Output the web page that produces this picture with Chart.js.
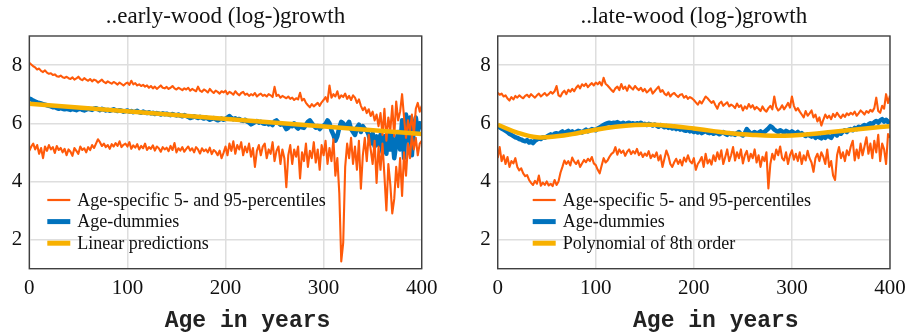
<!DOCTYPE html>
<html><head><meta charset="utf-8">
<script src="https://cdn.jsdelivr.net/npm/chart.js@4/dist/chart.umd.min.js"></script>
<style>
html,body{margin:0;padding:0;background:#fff;}
#wrap{position:relative;width:905px;height:335px;overflow:hidden;background:#fff;}
canvas{position:absolute;top:0;}
#c1{left:0;} #c2{left:468px;}
</style></head><body>
<div id="wrap"><canvas id="c1" width="440" height="335"></canvas><canvas id="c2" width="438" height="335"></canvas></div>
<script>
// ---------- data ----------
const ageStep = 2;                       // observations every 2 years, 0..400
const ages = Array.from({length: 201}, (_, i) => i * ageStep);
const xTicks = [0, 100, 200, 300, 400];
const yTicks = [2, 4, 6, 8];

const titleLeft = '..early-wood (log-)growth';
const titleRight = '..late-wood (log-)growth';
const xTitle = 'Age in years';
const legendLeft = ['Age-specific 5- and 95-percentiles', 'Age-dummies', 'Linear predictions'];
const legendRight = ['Age-specific 5- and 95-percentiles', 'Age-dummies', 'Polynomial of 8th order'];

const earlyP95 = [
8.08,8.02,7.96,7.92,7.85,7.88,7.80,7.76,7.82,7.74,
7.70,7.72,7.66,7.68,7.62,7.60,7.64,7.58,7.56,7.60,
7.55,7.52,7.58,7.50,7.54,7.60,7.52,7.48,7.55,7.50,
7.46,7.52,7.44,7.50,7.47,7.40,7.45,7.50,7.42,7.38,
7.44,7.40,7.36,7.42,7.38,7.33,7.40,7.35,7.30,7.36,
7.40,7.32,7.46,7.34,7.38,7.30,7.34,7.28,7.32,7.26,
7.30,7.22,7.28,7.20,7.26,7.18,7.24,7.30,7.22,7.20,
7.25,7.18,7.22,7.28,7.20,7.16,7.22,7.18,7.14,7.20,
7.16,7.22,7.12,7.18,7.14,7.10,7.26,7.12,7.08,7.16,
7.12,7.06,7.18,7.10,7.04,7.12,7.08,7.02,7.10,7.06,
7.12,7.00,7.08,7.04,6.98,7.10,7.02,6.96,7.04,7.08,
6.98,7.02,6.94,7.00,6.96,7.04,6.92,6.98,7.02,6.94,
6.98,6.92,7.00,6.96,6.90,7.25,6.94,6.98,6.88,6.94,
6.90,6.86,6.92,6.84,6.88,6.80,6.86,6.82,7.05,6.78,
6.84,6.70,6.62,6.55,6.66,6.58,6.64,6.70,6.60,6.72,
6.80,6.90,6.74,7.30,6.88,7.00,6.92,7.10,6.85,6.96,
6.90,7.02,6.84,6.94,6.80,6.96,6.88,6.70,6.82,6.60,
6.45,6.55,6.35,6.48,6.25,6.40,6.10,6.30,5.90,6.35,
5.60,6.50,5.40,6.20,5.75,6.60,5.55,6.75,6.10,6.40,
7.00,6.20,5.50,6.10,5.70,6.30,5.60,6.50,6.70,6.40,
6.60];

const earlyP05 = [
5.05,5.20,5.30,5.10,5.25,4.95,5.15,4.80,5.20,5.05,
5.25,5.10,5.18,4.98,5.22,5.08,5.15,5.00,5.12,4.90,
5.10,5.02,4.88,5.15,5.05,4.95,5.20,5.08,5.14,5.00,
5.18,5.08,5.25,5.15,5.30,5.45,5.35,5.22,5.30,5.18,
5.25,5.12,5.28,5.20,5.32,5.22,5.38,5.18,5.26,5.30,
5.20,5.35,5.12,5.24,5.16,5.28,5.10,5.22,5.14,5.30,
5.08,5.18,5.12,5.24,5.06,5.20,5.14,5.02,5.18,5.10,
5.16,5.04,5.22,5.08,5.32,5.00,5.14,5.06,5.18,5.02,
5.12,5.20,5.06,5.14,5.00,5.18,5.10,4.96,5.14,5.04,
5.10,5.00,5.16,4.94,5.08,5.02,4.90,5.06,4.80,4.98,
5.20,4.90,5.30,5.05,5.38,4.95,5.25,5.10,5.35,4.90,
5.20,5.00,5.30,4.85,5.15,4.50,5.05,5.25,4.90,5.20,
5.30,4.80,5.10,4.95,5.35,4.70,5.05,5.20,4.60,5.10,
4.80,3.80,4.90,5.25,4.60,5.10,4.85,5.20,4.10,5.00,
4.70,5.30,4.50,5.05,4.80,5.35,4.65,5.10,4.40,5.25,
4.90,5.40,4.60,5.15,4.70,5.45,4.20,4.80,3.60,1.25,
1.90,4.50,5.30,4.80,5.50,4.60,5.20,4.40,5.40,3.75,
4.90,5.50,4.70,5.60,5.10,4.60,5.40,3.95,5.20,4.40,
5.30,4.20,3.00,4.60,3.90,2.90,3.40,4.50,3.80,4.80,
3.50,5.00,4.20,5.30,4.80,5.60,5.10,5.50,4.90,5.30,
5.40];

const earlyDummies = [
6.85,6.82,6.78,6.75,6.72,6.70,6.68,6.66,6.64,6.62,
6.60,6.58,6.55,6.56,6.52,6.50,6.52,6.50,6.48,6.50,
6.48,6.46,6.50,6.47,6.45,6.48,6.50,6.46,6.44,6.47,
6.50,6.48,6.46,6.50,6.52,6.48,6.45,6.50,6.47,6.44,
6.46,6.43,6.45,6.48,6.44,6.42,6.45,6.43,6.40,6.42,
6.44,6.40,6.42,6.38,6.40,6.43,6.38,6.36,6.40,6.37,
6.35,6.38,6.34,6.36,6.32,6.35,6.33,6.30,6.34,6.31,
6.33,6.30,6.28,6.32,6.29,6.27,6.30,6.26,6.24,6.28,
6.25,6.22,6.18,6.20,6.24,6.21,6.18,6.22,6.19,6.16,
6.20,6.16,6.12,6.15,6.18,6.14,6.10,6.13,6.16,6.12,
6.15,6.20,6.25,6.18,6.14,6.17,6.12,6.15,6.10,6.08,
6.12,6.06,6.02,5.96,6.00,6.04,6.08,6.02,6.05,6.00,
5.98,6.03,5.96,6.00,5.94,6.06,6.10,6.02,5.95,5.98,
5.92,5.80,5.85,5.95,5.90,6.00,5.88,5.82,5.90,5.86,
5.84,5.95,6.05,6.10,6.00,5.92,5.85,5.90,5.80,5.88,
5.92,5.98,6.10,6.00,5.75,5.60,5.40,5.55,5.85,6.05,
6.00,5.85,5.95,6.05,5.80,5.70,5.60,5.85,5.95,5.70,
5.90,5.80,5.75,5.60,5.30,5.65,5.20,5.55,5.25,5.60,
5.00,5.55,4.95,5.70,5.10,5.60,4.80,5.30,5.70,5.10,
6.10,4.80,6.30,5.40,6.20,4.90,5.90,6.20,5.70,6.00,
5.80];

const linearAges = [0, 400];
const linearPred = [6.67, 5.63];

const lateP95 = [
7.05,6.98,7.02,6.92,6.96,6.85,6.78,6.90,6.82,6.94,
6.88,6.96,6.90,6.86,6.94,6.98,6.90,7.00,6.94,6.88,
6.96,7.02,6.92,6.98,7.04,6.95,7.00,7.08,7.02,7.10,
7.28,6.96,6.92,7.05,7.12,7.00,7.15,7.08,7.18,7.10,
7.22,7.30,7.20,7.34,7.28,7.36,7.24,7.32,7.38,7.30,
7.40,7.34,7.42,7.30,7.56,7.36,7.30,7.22,7.14,7.08,
7.20,7.26,7.14,7.35,7.18,7.26,7.12,7.30,7.22,7.16,
7.28,7.20,7.14,7.22,7.10,7.18,7.06,7.12,7.20,7.02,
7.10,7.18,7.26,7.08,7.14,7.02,6.96,7.06,6.92,7.00,
7.04,6.96,6.90,6.98,7.00,6.88,6.94,6.84,6.90,6.86,
6.80,6.72,6.64,6.76,6.68,6.80,6.92,6.86,6.78,6.70,
6.76,6.62,6.50,6.68,6.74,6.60,6.66,6.72,6.58,6.64,
6.60,6.52,6.68,6.56,6.62,6.44,6.58,6.50,6.66,6.54,
6.62,6.48,6.56,6.50,6.42,6.58,6.46,6.40,6.52,6.60,
6.48,6.92,6.56,6.44,6.50,6.62,6.48,6.58,6.70,6.54,
6.92,6.60,6.44,6.52,6.40,6.30,6.20,6.42,6.26,6.34,
6.44,6.20,6.30,6.06,6.20,5.92,6.12,6.30,6.18,6.26,
6.14,6.32,6.22,6.36,6.26,6.18,6.30,6.22,6.34,6.28,
6.36,6.30,6.40,6.26,6.34,6.44,6.38,6.30,6.42,6.36,
6.46,6.40,6.52,6.88,6.42,6.36,6.60,6.50,7.00,6.70,
6.95];

const lateP05 = [
4.80,5.18,4.70,4.90,4.60,4.84,4.50,4.70,4.62,4.80,
4.50,4.38,4.45,4.28,4.18,4.22,4.05,3.95,3.88,4.02,
3.92,4.20,3.85,3.96,3.88,4.00,3.86,3.92,3.84,4.05,
3.88,4.00,4.30,4.50,4.72,4.60,4.70,4.55,4.82,4.68,
4.60,4.72,4.50,4.62,4.74,4.66,4.78,4.70,4.84,4.62,
4.56,4.40,4.28,4.55,4.80,4.65,4.72,4.85,4.95,5.00,
5.18,4.92,5.10,4.98,5.06,4.88,5.02,5.10,4.94,5.04,
4.96,5.12,4.90,5.00,4.84,4.96,4.88,5.04,4.80,4.92,
4.84,5.00,4.72,4.90,4.50,4.78,5.06,4.88,4.60,4.50,
4.66,4.78,4.60,4.74,4.55,4.82,4.68,4.90,4.70,4.62,
4.80,4.40,4.60,4.70,4.84,4.50,4.95,4.62,4.75,4.58,
4.90,4.70,5.00,4.76,5.07,4.60,4.84,5.10,4.70,4.90,
5.18,4.72,5.00,4.80,5.10,4.62,4.90,5.05,4.70,4.95,
4.80,5.10,4.65,4.90,4.50,4.85,4.70,5.00,3.76,4.60,
4.95,4.75,5.10,4.90,5.20,4.80,4.72,5.00,4.60,4.90,
5.07,4.75,4.95,4.70,5.00,4.60,4.90,4.72,5.05,4.80,
4.65,4.33,4.80,4.95,4.70,5.00,4.85,4.60,5.10,4.50,
4.70,4.20,4.05,4.90,5.18,4.80,5.00,4.70,5.07,4.90,
5.20,5.40,4.72,5.10,4.80,5.30,4.90,5.20,5.52,4.95,
5.30,4.80,5.40,5.00,5.60,4.70,5.30,5.10,4.60,5.63,
5.50];

const lateDummies = [
5.90,5.86,5.82,5.78,5.74,5.70,5.64,5.60,5.56,5.52,
5.50,5.46,5.44,5.40,5.38,5.42,5.34,5.38,5.32,5.40,
5.44,5.48,5.46,5.52,5.50,5.54,5.58,5.62,5.58,5.64,
5.66,5.62,5.68,5.72,5.66,5.70,5.74,5.68,5.72,5.66,
5.70,5.74,5.72,5.68,5.74,5.78,5.72,5.76,5.80,5.78,
5.76,5.82,5.86,5.90,5.94,5.98,6.00,6.02,5.98,6.02,
6.00,6.04,6.00,5.98,6.02,5.96,6.00,6.02,5.98,6.00,
5.96,6.00,5.98,6.02,5.96,5.98,5.94,5.98,5.96,5.92,
5.96,5.92,5.88,5.94,5.90,5.86,5.90,5.84,5.88,5.82,
5.86,5.80,5.84,5.78,5.82,5.76,5.74,5.78,5.72,5.76,
5.70,5.74,5.68,5.72,5.66,5.70,5.74,5.68,5.66,5.70,
5.64,5.68,5.66,5.62,5.66,5.70,5.64,5.60,5.66,5.62,
5.64,5.60,5.66,5.70,5.62,5.58,5.66,5.80,5.72,5.64,
5.66,5.70,5.64,5.68,5.72,5.66,5.70,5.76,5.82,5.90,
5.86,5.78,5.74,5.70,5.76,5.72,5.68,5.74,5.70,5.66,
5.72,5.68,5.64,5.70,5.62,5.66,5.60,5.56,5.62,5.58,
5.54,5.60,5.50,5.58,5.52,5.48,5.56,5.50,5.58,5.54,
5.50,5.62,5.66,5.58,5.70,5.64,5.72,5.76,5.70,5.78,
5.80,5.76,5.84,5.80,5.88,5.84,5.90,5.94,5.88,5.96,
6.00,5.96,6.04,6.08,6.02,6.10,6.14,6.06,6.12,6.04,
6.08];

const polyAges = [0,20,40,60,80,100,120,140,160,180,200,220,240,260,280,300,320,340,360,380,400];
const polyPred = [5.95,5.68,5.52,5.55,5.65,5.78,5.88,5.94,5.95,5.90,5.82,5.73,5.65,5.60,5.57,5.58,5.63,5.70,5.77,5.84,5.90];

// ---------- style ----------
const ORANGE = '#ff5a0a';
const BLUE = '#0072bd';
const YELLOW = '#f8b100';
const SERIF = '"Liberation Serif", "Times New Roman", serif';
const MONO = '"Liberation Mono", "Courier New", monospace';

const pts = (xs, ys) => xs.map((x, i) => ({x: x, y: ys[i]}));

const decor = {
  id: 'decor',
  afterDraw(chart, args, o) {
    const {ctx, chartArea: a} = chart;
    ctx.save();
    // frame
    ctx.strokeStyle = '#404040';
    ctx.lineWidth = 1.4;
    ctx.strokeRect(a.left, a.top, a.right - a.left, a.bottom - a.top);
    // legend
    ctx.font = '18px ' + SERIF;
    ctx.textBaseline = 'middle';
    ctx.textAlign = 'left';
    const items = chart.data.datasets.filter(d => d.legendRow !== undefined)
      .sort((p, q) => p.legendRow - q.legendRow);
    items.forEach((d, i) => {
      const y = a.top + o.legendTop + i * 21.6;
      ctx.strokeStyle = d.borderColor;
      ctx.lineWidth = d.legendWidth;
      ctx.beginPath();
      ctx.moveTo(a.left + o.legendX, y);
      ctx.lineTo(a.left + o.legendX + 23, y);
      ctx.stroke();
      ctx.fillStyle = '#111';
      ctx.fillText(d.label, a.left + o.legendX + 30, y + 1);
    });
    // x axis title
    ctx.font = 'bold 23px ' + MONO;
    ctx.textAlign = 'center';
    ctx.fillStyle = '#222';
    ctx.fillText(o.xTitle, (a.left + a.right) / 2 + 22, 321);
    ctx.restore();
  }
};

function makeChart(id, title, legend, p95, p05, dummies, fitX, fitY, fitTension, plotLeft, plotRight, canvasW, legendX) {
  return new Chart(document.getElementById(id), {
    type: 'line',
    data: {
      datasets: [
        {label: legend[2], data: pts(fitX, fitY), borderColor: YELLOW, borderWidth: 4.5, tension: fitTension, legendRow: 2, legendWidth: 5},
        {label: legend[0], data: pts(ages, p95), borderColor: ORANGE, borderWidth: 2.1, legendRow: 0, legendWidth: 2.2},
        {label: legend[0] + ' (5)', data: pts(ages, p05), borderColor: ORANGE, borderWidth: 2.1},
        {label: legend[1], data: pts(ages, dummies), borderColor: BLUE, borderWidth: 4.5, legendRow: 1, legendWidth: 5}
      ]
    },
    options: {
      responsive: false,
      animation: false,
      events: [],
      elements: {point: {radius: 0}, line: {tension: 0, borderJoinStyle: 'round', borderCapStyle: 'butt'}},
      layout: {padding: {left: 0, right: canvasW - plotRight, top: 0, bottom: 0}},
      plugins: {
        legend: {display: false},
        tooltip: {enabled: false},
        title: {display: true, fullSize: false, text: title, color: '#111', font: {family: SERIF, size: 23, weight: 'normal'}, padding: {top: 3, bottom: 5.4}},
        decor: {legendX: legendX, legendTop: 164, xTitle: xTitle}
      },
      scales: {
        x: {
          type: 'linear', min: 0, max: 400,
          afterBuildTicks: s => { s.ticks = xTicks.map(v => ({value: v})); },
          afterFit: s => { s.height = 335 - 268.7; s.paddingLeft = 0; s.paddingRight = 0; },
          grid: {color: '#dedede', lineWidth: 1.5, drawTicks: false},
          border: {display: false},
          ticks: {color: '#111', font: {family: SERIF, size: 21}, padding: 7, maxRotation: 0}
        },
        y: {
          type: 'linear', min: 1, max: 9,
          afterBuildTicks: s => { s.ticks = yTicks.map(v => ({value: v})); },
          afterFit: s => { s.width = plotLeft; s.paddingTop = 0; s.paddingBottom = 0; },
          grid: {color: '#dedede', lineWidth: 1.5, drawTicks: false},
          border: {display: false},
          ticks: {color: '#111', font: {family: SERIF, size: 21}, padding: 7}
        }
      }
    },
    plugins: [decor]
  });
}

makeChart('c1', titleLeft, legendLeft, earlyP95, earlyP05, earlyDummies, linearAges, linearPred, 0, 29.3, 421.7, 440, 18);
makeChart('c2', titleRight, legendRight, lateP95, lateP05, lateDummies, polyAges, polyPred, 0.4, 29.7, 422, 438, 35);
</script>
</body></html>
